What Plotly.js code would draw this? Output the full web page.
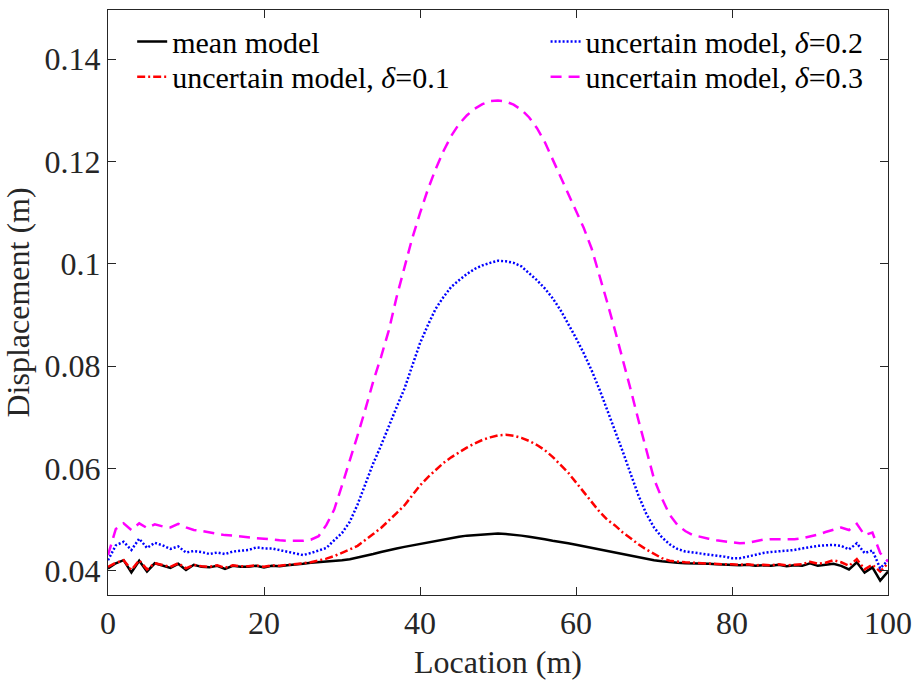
<!DOCTYPE html>
<html>
<head>
<meta charset="utf-8">
<script src="https://cdn.plot.ly/plotly-3.0.1.min.js"></script>
<style>html,body{margin:0;padding:0;background:#fff;}#chart{width:915px;height:684px;}</style>
</head>
<body>
<div id="chart"></div>
<script>
const location_m = [0,1,2,3,4,5,6,7,8,9,10,11,12,13,14,15,16,17,18,19,20,21,22,23,24,25,26,27,28,29,30,31,32,33,34,35,36,37,38,39,40,41,42,43,44,45,46,47,48,49,50,51,52,53,54,55,56,57,58,59,60,61,62,63,64,65,66,67,68,69,70,71,72,73,74,75,76,77,78,79,80,81,82,83,84,85,86,87,88,89,90,91,92,93,94,95,96,97,98,99,100];

const meanModel = [0.0405,0.0415,0.0421,0.0397,0.0420,0.0399,0.0415,0.0410,0.0406,0.0414,0.0402,0.0412,0.0408,0.0407,0.0410,0.0404,0.0410,0.0408,0.0408,0.0410,0.0407,0.0410,0.0409,0.0411,0.0412,0.0414,0.0416,0.0417,0.0418,0.0419,0.0421,0.0423,0.0426,0.0429,0.0433,0.0437,0.0441,0.0444,0.0447,0.0450,0.0453,0.0456,0.0459,0.0462,0.0464,0.0467,0.0469,0.0470,0.0472,0.0473,0.0473,0.0472,0.0471,0.0469,0.0467,0.0465,0.0462,0.0459,0.0457,0.0454,0.0451,0.0448,0.0444,0.0441,0.0438,0.0435,0.0432,0.0429,0.0427,0.0424,0.0421,0.0419,0.0417,0.0416,0.0415,0.0415,0.0414,0.0414,0.0413,0.0412,0.0412,0.0411,0.0412,0.0410,0.0411,0.0410,0.0412,0.0409,0.0411,0.0410,0.0415,0.0410,0.0412,0.0414,0.0410,0.0403,0.0417,0.0397,0.0407,0.0381,0.0399];

const delta01 = [0.0408,0.0416,0.0421,0.0402,0.0421,0.0403,0.0415,0.0412,0.0408,0.0415,0.0405,0.0412,0.0409,0.0408,0.0411,0.0406,0.0411,0.0409,0.0409,0.0411,0.0408,0.0411,0.0410,0.0412,0.0413,0.0415,0.0417,0.0420,0.0424,0.0429,0.0435,0.0442,0.0449,0.0460,0.0472,0.0484,0.0498,0.0513,0.0528,0.0548,0.0567,0.0583,0.0597,0.0611,0.0622,0.0632,0.0641,0.0649,0.0656,0.0661,0.0665,0.0666,0.0664,0.0660,0.0654,0.0646,0.0636,0.0623,0.0608,0.0592,0.0573,0.0555,0.0535,0.0516,0.0500,0.0489,0.0475,0.0464,0.0452,0.0442,0.0433,0.0425,0.0420,0.0418,0.0417,0.0416,0.0415,0.0415,0.0414,0.0413,0.0413,0.0412,0.0413,0.0411,0.0412,0.0411,0.0413,0.0411,0.0412,0.0413,0.0418,0.0414,0.0416,0.0421,0.0417,0.0410,0.0423,0.0403,0.0412,0.0399,0.0415];

const delta02 = [0.0421,0.0450,0.0457,0.0441,0.0463,0.0445,0.0455,0.0450,0.0443,0.0448,0.0436,0.0439,0.0437,0.0433,0.0436,0.0433,0.0438,0.0440,0.0441,0.0446,0.0444,0.0444,0.0441,0.0438,0.0434,0.0431,0.0435,0.0440,0.0445,0.0460,0.0474,0.0496,0.0530,0.0570,0.0610,0.0645,0.0684,0.0720,0.0756,0.0800,0.0845,0.0880,0.0912,0.0935,0.0955,0.0968,0.0980,0.0990,0.0997,0.1002,0.1006,0.1005,0.1002,0.0995,0.0982,0.0968,0.0952,0.0933,0.0910,0.0883,0.0855,0.0825,0.0792,0.0755,0.0715,0.0675,0.0633,0.0590,0.0548,0.0512,0.0485,0.0466,0.0452,0.0443,0.0438,0.0436,0.0434,0.0432,0.0431,0.0428,0.0425,0.0425,0.0428,0.0432,0.0435,0.0437,0.0438,0.0440,0.0441,0.0444,0.0447,0.0449,0.0450,0.0451,0.0449,0.0442,0.0454,0.0435,0.0440,0.0405,0.0421];

const delta03 = [0.0431,0.0482,0.0493,0.0480,0.0493,0.0484,0.0491,0.0487,0.0485,0.0492,0.0485,0.0480,0.0478,0.0475,0.0473,0.0470,0.0469,0.0467,0.0466,0.0464,0.0463,0.0461,0.0460,0.0459,0.0459,0.0459,0.0461,0.0468,0.0490,0.0520,0.0567,0.0615,0.0665,0.0716,0.0770,0.0818,0.0870,0.0935,0.0990,0.1050,0.1099,0.1145,0.1185,0.1220,0.1250,0.1273,0.1290,0.1303,0.1312,0.1318,0.1319,0.1317,0.1311,0.1301,0.1286,0.1265,0.1238,0.1205,0.1170,0.1137,0.1105,0.1070,0.1030,0.0980,0.0925,0.0870,0.0815,0.0755,0.0695,0.0635,0.0580,0.0542,0.0510,0.0490,0.0478,0.0470,0.0466,0.0463,0.0460,0.0458,0.0455,0.0454,0.0455,0.0458,0.0461,0.0462,0.0462,0.0462,0.0462,0.0464,0.0467,0.0471,0.0476,0.0481,0.0485,0.0480,0.0492,0.0470,0.0475,0.0435,0.0418];

const seriesNames = ['mean model', 'uncertain model, <i>δ</i>=0.1', 'uncertain model, <i>δ</i>=0.2', 'uncertain model, <i>δ</i>=0.3'];
const xTicks = [0,20,40,60,80,100];
const yTicks = [0.04,0.06,0.08,0.1,0.12,0.14];

const FONT = 'Liberation Serif';

const traces = [
  {x: location_m, y: meanModel, name: seriesNames[0], mode: 'lines', legend: 'legend',
   line: {color: '#000000', width: 2.5, dash: 'solid'}},
  {x: location_m, y: delta01, name: seriesNames[1], mode: 'lines', legend: 'legend2',
   line: {color: '#ff0000', width: 2.5, dash: '8px,3px,2px,3px'}},
  {x: location_m, y: delta02, name: seriesNames[2], mode: 'lines', legend: 'legend3',
   line: {color: '#0000ff', width: 2.5, dash: '2px,2px'}},
  {x: location_m, y: delta03, name: seriesNames[3], mode: 'lines', legend: 'legend4',
   line: {color: '#ff00ff', width: 2.5, dash: '11px,7px'}}
];

const axisCommon = {
  showgrid: false, zeroline: false, showline: true, mirror: 'ticks',
  linecolor: '#262626', linewidth: 1, ticks: 'inside', ticklen: 8, tickwidth: 1,
  tickcolor: '#262626', tickfont: {family: FONT, size: 32, color: '#262626'}
};

function legendAt(x, y) {
  return {x: x, y: y, xanchor: 'left', yanchor: 'middle', bgcolor: 'rgba(0,0,0,0)',
    borderwidth: 0, font: {family: FONT, size: 30, color: '#000000'}, itemwidth: 30};
}

const layout = {
  width: 915, height: 684,
  margin: {l: 108, r: 27, t: 10, b: 89},
  paper_bgcolor: '#ffffff', plot_bgcolor: '#ffffff',
  font: {family: FONT, color: '#262626'},
  showlegend: true,
  xaxis: Object.assign({}, axisCommon, {
    range: [0, 100], tickvals: xTicks,
    title: {text: 'Location (m)', font: {family: FONT, size: 32, color: '#262626'}, standoff: 10}
  }),
  yaxis: Object.assign({}, axisCommon, {
    range: [0.0353, 0.1496], tickvals: yTicks,
    title: {text: 'Displacement (m)', font: {family: FONT, size: 32, color: '#262626'}, standoff: 6}
  }),
  legend: legendAt(0.031, 0.946),
  legend2: legendAt(0.031, 0.886),
  legend3: legendAt(0.561, 0.946),
  legend4: legendAt(0.561, 0.886)
};

Plotly.newPlot('chart', traces, layout, {displayModeBar: false, staticPlot: true});
</script>
</body>
</html>
